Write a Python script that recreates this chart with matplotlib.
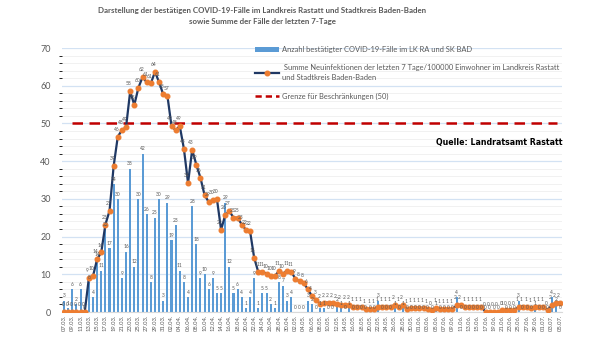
import matplotlib
matplotlib.use('Agg')
import matplotlib.pyplot as plt
from matplotlib.lines import Line2D
from matplotlib.patches import Patch
import numpy as np
import datetime as dt

# daily cases LK RA + SK BAD, 07.03. - 05.07.
cases = [3, 1, 6, 2, 6, 0, 8, 4, 14, 11,
         22, 17, 34, 30, 9, 16, 38, 12, 30, 42,
         26, 8, 25, 30, 3, 29, 19, 23, 11, 8,
         4, 28, 18, 9, 10, 6, 9, 5, 5, 29,
         12, 5, 6, 4, 1, 4, 9, 1, 5, 5,
         2, 1, 8, 7, 3, 4, 0, 0, 0, 3,
         2, 0, 1, 1, 0, 0, 2, 1, 0, 1,
         0, 0, 0, 0, 0, 0, 3, 0, 0, 0,
         1, 0, 1, 0, 0, 0, 0, 0, 0, 0,
         1, 0, 0, 0, 0, 4, 0, 0, 0, 0,
         0, 0, 0, 0, 0, 0, 1, 0, 0, 0,
         3, 0, 0, 0, 1, 0, 0, 0, 4, 2,
         0]

# 7-Tage-Summe / 100000 Einwohner
incidence = [0, 0, 0, 0, 0, 0, 9.0, 9.5, 14.0, 15.8,
             23.2, 26.8, 38.7, 46.5, 48.2, 49.0, 58.5, 54.9, 59.5, 62.3,
             60.9, 60.6, 63.7, 60.9, 57.7, 57.4, 49.3, 48.2, 49.3, 43.3,
             34.2, 43.0, 39.1, 35.6, 31.0, 29.2, 29.6, 29.9, 21.8, 25.7,
             26.8, 25.0, 25.0, 23.2, 21.8, 21.5, 14.4, 10.6, 10.6, 10.2,
             9.5, 9.5, 10.9, 10.2, 10.9, 10.6, 8.8, 8.1, 7.7, 6.0,
             4.2, 3.2, 2.1, 2.5, 2.5, 2.5, 2.1, 1.8, 1.8, 1.8,
             1.4, 1.4, 1.4, 0.7, 0.7, 0.7, 1.4, 1.4, 1.4, 1.4,
             1.8, 1.4, 1.8, 0.7, 1.1, 1.1, 1.1, 1.1, 0.7, 0.4,
             1.1, 0.7, 0.7, 0.7, 0.7, 1.8, 1.8, 1.4, 1.4, 1.4,
             1.4, 1.4, 0, 0, 0, 0, 0.4, 0.4, 0.4, 0.4,
             1.4, 1.4, 1.4, 1.1, 1.4, 1.4, 1.4, 0.4, 1.8, 2.5,
             2.5]

GRENZE = 50
start = dt.date(2020, 3, 7)
dates = [start + dt.timedelta(days=i) for i in range(len(cases))]
date_labels = [d.strftime('%d.%m.') for d in dates]

FONT = 'Lato'
GREY = '#595959'
plt.rcParams['font.family'] = [FONT, 'DejaVu Sans']

fig = plt.figure(figsize=(6.08, 3.42), dpi=100)
ax = fig.add_axes([62/608, 30/342, 500/608, 264/342])

x = np.arange(len(cases))
ax.bar(x, cases, width=0.5, color='#5B9BD5', zorder=2)
ax.plot(x, incidence, color='#1F3864', lw=1.6, marker='o', ms=3.3,
        mfc='#ED7D31', mec='#ED7D31', zorder=4)
ax.hlines(GRENZE, 1.9, 119.4, colors='#C00000', lw=1.8,
          linestyles=(0, (4.2, 2.6)), zorder=3)

# data labels
for xi, v in zip(x, cases):
    ax.text(xi, v + 0.6, str(v), ha='center', va='bottom', fontsize=3.5,
            color=GREY, zorder=5)
for xi, v in zip(x, incidence):
    ax.text(xi - 0.3, v + 1.3, '%d' % round(v), ha='center', va='bottom',
            fontsize=3.5, color=GREY, zorder=5)

ax.set_xlim(-0.5, len(cases) - 0.5)
ax.set_ylim(0, 70)
ax.set_yticks(range(0, 71, 10))
ax.set_yticks(range(0, 71, 2), minor=True)
ax.grid(axis='y', which='minor', color='#EFEFEF', lw=0.6, zorder=0)
ax.grid(axis='y', which='major', color='#D3E2F3', lw=0.9, zorder=0)
ax.set_xticks(x[::2])
ax.set_xticklabels(date_labels[::2], rotation=90, fontsize=4.2, color=GREY)
ax.tick_params(axis='y', labelsize=6.5, labelcolor=GREY, length=0, pad=8)
ax.tick_params(axis='x', length=0, pad=2)
for s in ['top', 'right', 'left']:
    ax.spines[s].set_visible(False)
ax.spines['bottom'].set_color('#D9D9D9')
ax.spines['bottom'].set_linewidth(0.8)

fig.text(262/608, 1 - 16/342,
         'Darstellung der bestätigen COVID-19-Fälle im Landkreis Rastatt und Stadtkreis Baden-Baden\n'
         'sowie Summe der Fälle der letzten 7-Tage',
         ha='center', va='center', fontsize=5.7, fontweight='bold', color=GREY,
         linespacing=1.7)

handles = [Patch(facecolor='#5B9BD5'),
           Line2D([], [], color='#1F3864', lw=1.6, marker='o', ms=3.3,
                  mfc='#ED7D31', mec='#ED7D31'),
           Line2D([], [], color='#C00000', lw=1.8, linestyle=(0, (2.5, 1.6)))]
labels = ['Anzahl bestätigter COVID-19-Fälle im LK RA und SK BAD',
          ' Summe Neuinfektionen der letzten 7 Tage/100000 Einwohner im Landkreis Rastatt\nund Stadtkreis Baden-Baden',
          'Grenze für Beschränkungen (50)']
leg = fig.legend(handles, labels, loc='upper left',
                 bbox_to_anchor=(252/608, 1 - 43/342), frameon=False,
                 fontsize=5.4, handlelength=3.2, handleheight=0.6,
                 labelspacing=1.5, borderaxespad=0, handletextpad=0.4)
for t in leg.get_texts():
    t.set_color(GREY)
    t.set_linespacing(1.5)

fig.text(562/608, 1 - 143/342, 'Quelle: Landratsamt Rastatt', ha='right',
         va='center', fontsize=5.7, fontweight='bold', color='black',
         family='DejaVu Sans')

fig.savefig('out.png', dpi=100, facecolor='white')
